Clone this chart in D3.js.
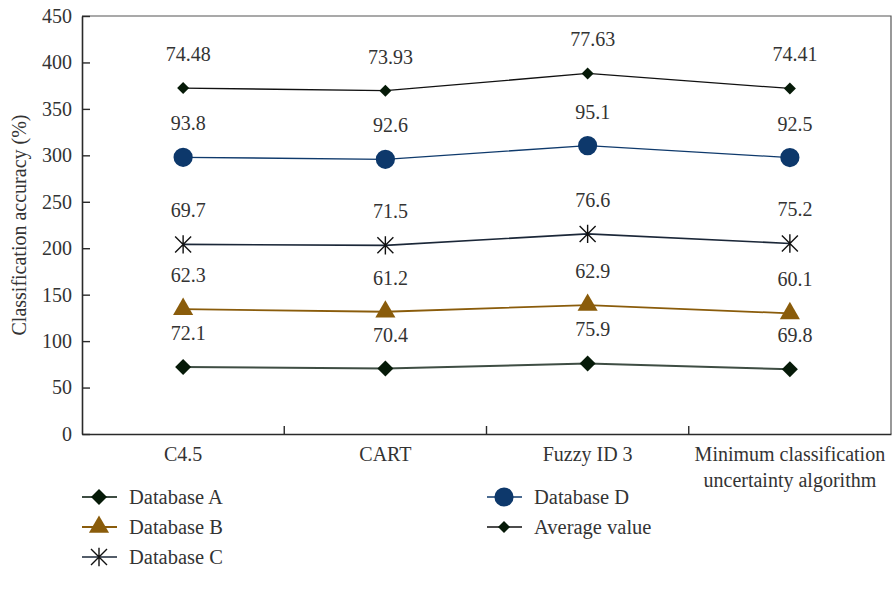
<!DOCTYPE html>
<html>
<head>
<meta charset="utf-8">
<script src="https://cdn.jsdelivr.net/npm/d3@7"></script>
<style>
  html, body { margin: 0; padding: 0; background: #fff; }
  svg text { font-family: "Liberation Serif", "Times New Roman", serif; fill: #333; }
</style>
</head>
<body>
<svg id="chart" width="894" height="596"></svg>
<script>
// Algorithms compared on the x axis
const categories = ["C4.5", "CART", "Fuzzy ID 3", "Minimum classification uncertainty algorithm"];

// Accuracy (%) per database; series are stacked on top of each other
const databaseA = [72.1, 70.4, 75.9, 69.8];
const databaseB = [62.3, 61.2, 62.9, 60.1];
const databaseC = [69.7, 71.5, 76.6, 75.2];
const databaseD = [93.8, 92.6, 95.1, 92.5];
const averageValue = [74.48, 73.93, 77.63, 74.41];

const yTicks = [0, 50, 100, 150, 200, 250, 300, 350, 400, 450];

const seriesNames = ["Database A", "Database B", "Database C", "Database D", "Average value"];
const seriesValues = [databaseA, databaseB, databaseC, databaseD, averageValue];

const rows = categories.map((c, i) => {
  const r = { category: c };
  seriesNames.forEach((n, k) => { r[n] = seriesValues[k][i]; });
  return r;
});
const stacked = d3.stack().keys(seriesNames)(rows);

const svg = d3.select("#chart");
const plotL = 82, plotR = 891, plotT = 16, plotB = 434;

const x = d3.scaleBand().domain(categories).range([plotL, plotR]);
const y = d3.scaleLinear().domain([0, 450]).range([plotB, plotT]);
const cx = c => x(c) + x.bandwidth() / 2;

// Plot frame (top and right edges)
svg.append("path")
  .attr("d", `M${plotL},${plotT}H${plotR}V${plotB}`)
  .attr("fill", "none").attr("stroke", "#555").attr("stroke-width", 1.2);

// Y axis with inward ticks
const yAxis = svg.append("g").attr("transform", `translate(${plotL},0)`)
  .call(d3.axisLeft(y).tickValues(yTicks).tickSize(-8).tickPadding(10).tickSizeOuter(0));
yAxis.select(".domain").attr("stroke", "#2a2a2a").attr("stroke-width", 1.6);
yAxis.selectAll(".tick line").attr("stroke", "#2a2a2a").attr("stroke-width", 1.4);
yAxis.selectAll("text").style("font-size", "20px").attr("fill", "#333");

// X axis: category labels centred in each band
const xAxis = svg.append("g").attr("transform", `translate(0,${plotB})`)
  .call(d3.axisBottom(x).tickSize(0).tickPadding(13));
xAxis.select(".domain").attr("stroke", "#2a2a2a").attr("stroke-width", 1.6);
xAxis.selectAll(".tick text").style("font-size", "20px").attr("fill", "#333")
  .each(function(d) {
    const t = d3.select(this);
    if (d.startsWith("Minimum")) {
      t.text(null);
      t.append("tspan").attr("x", 0).attr("dy", "0.71em").text("Minimum classification");
      t.append("tspan").attr("x", 0).attr("dy", "1.3em").text("uncertainty algorithm");
      t.attr("dy", null);
    }
  });

// Inward ticks on the band boundaries
svg.append("g").selectAll("line")
  .data(categories.slice(1))
  .join("line")
  .attr("x1", d => x(d)).attr("x2", d => x(d))
  .attr("y1", plotB).attr("y2", plotB - 8)
  .attr("stroke", "#2a2a2a").attr("stroke-width", 1.4);

// Y axis title
svg.append("text")
  .attr("transform", `translate(26,${(plotT + plotB) / 2}) rotate(-90)`)
  .attr("text-anchor", "middle")
  .style("font-size", "20px")
  .text("Classification accuracy (%)");

// Marker shapes
const asterisk = {
  draw(ctx, size) {
    const r = Math.sqrt(size) / 2;
    ctx.moveTo(-r, -r); ctx.lineTo(r, r);
    ctx.moveTo(-r, r); ctx.lineTo(r, -r);
    ctx.moveTo(0, -r * 1.15); ctx.lineTo(0, r * 1.15);
  }
};

const styles = [
  { line: "#3e4d43", lw: 2, fill: "#061a08", stroke: "none", type: d3.symbolSquare, size: 128, rot: 45 },
  { line: "#8a5c0b", lw: 1.8, fill: "#8a5c0b", stroke: "none", type: d3.symbolTriangle, size: 175, rot: 0 },
  { line: "#1b2738", lw: 1.6, fill: "none", stroke: "#111", type: asterisk, size: 256, rot: 0 },
  { line: "#0f3a6c", lw: 1.3, fill: "#0d386b", stroke: "none", type: d3.symbolCircle, size: 290, rot: 0 },
  { line: "#111", lw: 1.3, fill: "#061a08", stroke: "none", type: d3.symbolSquare, size: 72, rot: 45 }
];

const line = d3.line().x(d => cx(d.data.category)).y(d => y(d[1]));

stacked.forEach((layer, k) => {
  const s = styles[k];
  const g = svg.append("g");
  g.append("path").datum(layer).attr("d", line)
    .attr("fill", "none").attr("stroke", s.line).attr("stroke-width", s.lw);
  g.selectAll("path.mark").data(layer).join("path").attr("class", "mark")
    .attr("transform", d => `translate(${cx(d.data.category)},${y(d[1])}) rotate(${s.rot})`)
    .attr("d", d3.symbol().type(s.type).size(s.size))
    .attr("fill", s.fill).attr("stroke", s.stroke).attr("stroke-width", 1.4);
  g.selectAll("text").data(layer).join("text")
    .attr("x", d => cx(d.data.category) + 5)
    .attr("y", d => y(d[1]) - 34)
    .attr("dy", "0.35em")
    .attr("text-anchor", "middle")
    .style("font-size", "20px")
    .text(d => d.data[layer.key]);
});

// Legend in two columns
const legendPos = [
  { x: 99, y: 497 }, { x: 99, y: 527 }, { x: 99, y: 557 },
  { x: 504, y: 497 }, { x: 504, y: 527 }
];
seriesNames.forEach((n, k) => {
  const s = styles[k], p = legendPos[k];
  const g = svg.append("g").attr("transform", `translate(${p.x},${p.y})`);
  g.append("line").attr("x1", -17).attr("x2", 18)
    .attr("stroke", s.line).attr("stroke-width", s.lw);
  g.append("path")
    .attr("transform", `rotate(${s.rot})`)
    .attr("d", d3.symbol().type(s.type).size(s.size))
    .attr("fill", s.fill).attr("stroke", s.stroke).attr("stroke-width", 1.4);
  g.append("text").attr("x", 30).attr("dy", "0.35em")
    .style("font-size", "20.5px").text(n);
});
</script>
</body>
</html>
